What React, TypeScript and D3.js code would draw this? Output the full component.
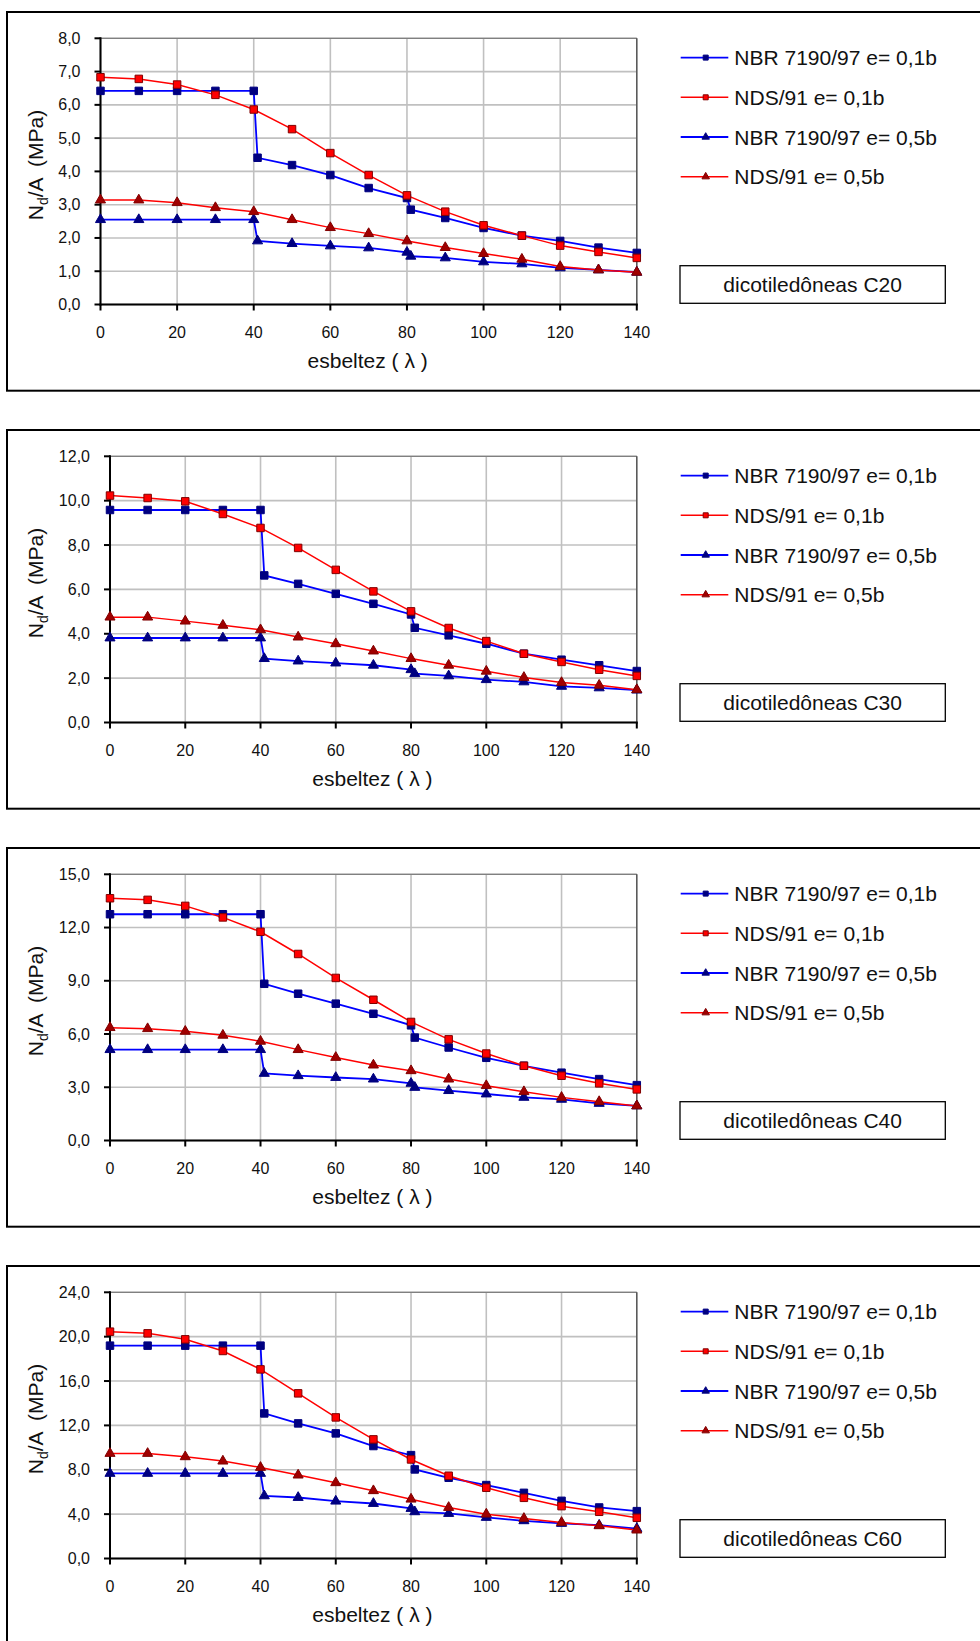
import React from 'react';
import * as d3 from 'd3';

// ---------- DATA ----------
const lambdaNBR = [0, 10, 20, 30, 40, 41, 50, 60, 70, 80, 81, 90, 100, 110, 120, 130, 140];
const lambdaNDS = [0, 10, 20, 30, 40, 50, 60, 70, 80, 90, 100, 110, 120, 130, 140];
const xTicks = [0, 20, 40, 60, 80, 100, 120, 140];

const seriesNames = ['NBR 7190/97 e= 0,1b', 'NDS/91 e= 0,1b', 'NBR 7190/97 e= 0,5b', 'NDS/91 e= 0,5b'];
const panelLabels = ['dicotiledôneas C20', 'dicotiledôneas C30', 'dicotiledôneas C40', 'dicotiledôneas C60'];

// C20
const c20NBR01 = [6.42, 6.42, 6.42, 6.42, 6.42, 4.41, 4.19, 3.89, 3.5, 3.2, 2.85, 2.6, 2.3, 2.07, 1.91, 1.71, 1.55];
const c20NDS01 = [6.83, 6.78, 6.61, 6.3, 5.86, 5.27, 4.55, 3.89, 3.28, 2.79, 2.38, 2.07, 1.77, 1.58, 1.4];
const c20NBR05 = [2.55, 2.55, 2.55, 2.55, 2.55, 1.91, 1.83, 1.76, 1.7, 1.57, 1.45, 1.4, 1.28, 1.22, 1.1, 1.04, 0.97];
const c20NDS05 = [3.14, 3.14, 3.06, 2.91, 2.79, 2.55, 2.31, 2.13, 1.91, 1.71, 1.53, 1.36, 1.14, 1.04, 0.97];
const c20YTicks = [0, 1, 2, 3, 4, 5, 6, 7, 8];

// C30
const c30NBR01 = [9.58, 9.58, 9.58, 9.58, 9.58, 6.63, 6.25, 5.8, 5.35, 4.87, 4.27, 3.93, 3.55, 3.1, 2.83, 2.58, 2.32];
const c30NDS01 = [10.23, 10.12, 9.97, 9.4, 8.77, 7.87, 6.88, 5.91, 5.01, 4.26, 3.67, 3.1, 2.73, 2.38, 2.1];
const c30NBR05 = [3.81, 3.81, 3.81, 3.81, 3.81, 2.88, 2.77, 2.68, 2.58, 2.38, 2.2, 2.1, 1.93, 1.83, 1.63, 1.56, 1.46];
const c30NDS05 = [4.75, 4.75, 4.57, 4.38, 4.18, 3.85, 3.55, 3.22, 2.88, 2.58, 2.31, 2.03, 1.8, 1.68, 1.48];
const c30YTicks = [0, 2, 4, 6, 8, 10, 12];

// C40
const c40NBR01 = [12.75, 12.75, 12.75, 12.75, 12.75, 8.83, 8.27, 7.71, 7.14, 6.49, 5.8, 5.24, 4.66, 4.21, 3.82, 3.46, 3.12];
const c40NDS01 = [13.65, 13.56, 13.22, 12.57, 11.76, 10.51, 9.16, 7.93, 6.68, 5.7, 4.9, 4.21, 3.65, 3.22, 2.88];
const c40NBR05 = [5.12, 5.12, 5.12, 5.12, 5.12, 3.78, 3.65, 3.55, 3.46, 3.22, 2.99, 2.81, 2.62, 2.43, 2.32, 2.09, 1.95];
const c40NDS05 = [6.36, 6.3, 6.15, 5.93, 5.59, 5.12, 4.68, 4.25, 3.93, 3.46, 3.09, 2.75, 2.43, 2.19, 1.95];
const c40YTicks = [0, 3, 6, 9, 12, 15];

// C60
const c60NBR01 = [19.19, 19.19, 19.19, 19.19, 19.19, 13.08, 12.18, 11.28, 10.14, 9.32, 8.03, 7.28, 6.62, 5.92, 5.2, 4.6, 4.27];
const c60NDS01 = [20.45, 20.3, 19.76, 18.71, 17.05, 14.89, 12.72, 10.74, 8.93, 7.46, 6.38, 5.47, 4.72, 4.21, 3.67];
const c60NBR05 = [7.67, 7.67, 7.67, 7.67, 7.67, 5.65, 5.5, 5.17, 4.96, 4.51, 4.21, 4.06, 3.7, 3.4, 3.16, 3.0, 2.7];
const c60NDS05 = [9.47, 9.47, 9.17, 8.78, 8.21, 7.52, 6.83, 6.11, 5.35, 4.6, 4.0, 3.61, 3.25, 2.95, 2.56];
const c60YTicks = [0, 4, 8, 12, 16, 20, 24];

// ---------- STYLES / LAYOUT ----------
const FONT = '"Liberation Sans", Arial, Helvetica, sans-serif';
const W = 980;
const H = 1641;
const PANEL_STEP = 418;

const styles = [
  { color: '#0000ff', shape: 'square', fill: '#000080', stroke: '#000080', width: 1.8 },
  { color: '#ff0000', shape: 'square', fill: '#ff0000', stroke: '#800000', width: 1.5 },
  { color: '#0000ff', shape: 'triangle', fill: '#000080', stroke: '#000080', width: 1.8 },
  { color: '#ff0000', shape: 'triangle', fill: '#a00000', stroke: '#800000', width: 1.5 },
];

const panels = [
  { label: panelLabels[0], ticks: c20YTicks, left: 100.5, series: [c20NBR01, c20NDS01, c20NBR05, c20NDS05] },
  { label: panelLabels[1], ticks: c30YTicks, left: 110, series: [c30NBR01, c30NDS01, c30NBR05, c30NDS05] },
  { label: panelLabels[2], ticks: c40YTicks, left: 110, series: [c40NBR01, c40NDS01, c40NBR05, c40NDS05] },
  { label: panelLabels[3], ticks: c60YTicks, left: 110, series: [c60NBR01, c60NDS01, c60NBR05, c60NDS05] },
];

const fmt = (v: number) => v.toFixed(1).replace('.', ',');

function markerPath(shape: string, big: boolean) {
  const sym = shape === 'square' ? d3.symbolSquare : d3.symbolTriangle;
  const size = shape === 'square' ? (big ? 56 : 25) : (big ? 44 : 24);
  return d3.symbol().type(sym).size(size)() as string;
}

function Panel({ p, idx }: { p: any; idx: number }) {
  const oy = idx * PANEL_STEP;
  const top = 38.3;
  const bottom = 304.5;
  const right = 636.8;
  const x = d3.scaleLinear().domain([0, 140]).range([p.left, right]);
  const yMax = p.ticks[p.ticks.length - 1];
  const y = d3.scaleLinear().domain([0, yMax]).range([bottom, top]);
  const line = d3
    .line<[number, number]>()
    .x((d) => x(d[0]))
    .y((d) => y(d[1]));

  const xs = [lambdaNBR, lambdaNDS, lambdaNBR, lambdaNDS];
  const legendY = (i: number) => 57.6 + i * 39.7;
  const cx = (p.left + right) / 2;

  return (
    <g transform={`translate(0,${oy})`}>
      <rect x={7} y={12} width={1000} height={378.7} fill="#fff" stroke="#000" strokeWidth={2} />
      {/* gridlines */}
      {p.ticks.map((t: number) => (
        <line key={'hy' + t} x1={p.left} x2={right} y1={y(t)} y2={y(t)} stroke="#c0c0c0" strokeWidth={1.6} />
      ))}
      {xTicks.map((t) => (
        <line key={'vx' + t} x1={x(t)} x2={x(t)} y1={top} y2={bottom} stroke="#c0c0c0" strokeWidth={1.6} />
      ))}
      {/* plot border */}
      <line x1={p.left} x2={right} y1={top} y2={top} stroke="#808080" strokeWidth={1.2} />
      <line x1={right} x2={right} y1={top} y2={bottom} stroke="#404040" strokeWidth={1.2} />
      {/* axes */}
      <line x1={p.left} x2={p.left} y1={top - 1} y2={bottom + 1} stroke="#000" strokeWidth={2} />
      <line x1={p.left - 1} x2={right + 1} y1={bottom} y2={bottom} stroke="#000" strokeWidth={2} />
      {p.ticks.map((t: number) => (
        <g key={'yt' + t}>
          <line x1={p.left - 6} x2={p.left} y1={y(t)} y2={y(t)} stroke="#000" strokeWidth={2} />
          <text x={p.left - 20} y={y(t)} textAnchor="end" dominantBaseline="central" fontSize={16} fontFamily={FONT} fill="#111">
            {fmt(t)}
          </text>
        </g>
      ))}
      {xTicks.map((t) => (
        <g key={'xt' + t}>
          <line x1={x(t)} x2={x(t)} y1={bottom} y2={bottom + 6} stroke="#000" strokeWidth={2} />
          <text x={x(t)} y={bottom + 33.5} textAnchor="middle" fontSize={16} fontFamily={FONT} fill="#111">
            {t}
          </text>
        </g>
      ))}
      {/* axis titles */}
      <text
        x={cx - 1}
        y={367.5}
        textAnchor="middle"
        fontSize={21}
        fontFamily={FONT}
        fill="#111"
        xmlSpace="preserve"
        style={{ whiteSpace: 'pre' }}
      >
        {'esbeltez ( λ )'}
      </text>
      <text
        transform={`translate(43,165) rotate(-90)`}
        textAnchor="middle"
        fontSize={21}
        fontFamily={FONT}
        fill="#111"
        xmlSpace="preserve"
        style={{ whiteSpace: 'pre' }}
      >
        <tspan>N</tspan>
        <tspan fontSize={14} dy={5}>d</tspan>
        <tspan dy={-5}>{'/A  (MPa)'}</tspan>
      </text>
      {/* series */}
      {p.series.map((vals: number[], si: number) => {
        const pts: [number, number][] = xs[si].map((lx: number, i: number) => [lx, vals[i]]);
        const st = styles[si];
        const mp = markerPath(st.shape, true);
        return (
          <g key={'s' + si}>
            <path d={line(pts) as string} fill="none" stroke={st.color} strokeWidth={st.width} />
            {pts.map((d, i) => (
              <path
                key={i}
                d={mp}
                transform={`translate(${x(d[0])},${y(d[1])})`}
                fill={st.fill}
                stroke={st.stroke}
                strokeWidth={1}
              />
            ))}
          </g>
        );
      })}
      {/* legend */}
      {seriesNames.map((n, i) => {
        const st = styles[i];
        const ly = legendY(i);
        return (
          <g key={'lg' + i}>
            <line x1={680.7} x2={728.3} y1={ly} y2={ly} stroke={st.color} strokeWidth={st.width} />
            <path d={markerPath(st.shape, false)} transform={`translate(705.7,${ly})`} fill={st.fill} stroke={st.stroke} strokeWidth={1} />
            <text x={734.3} y={ly} dominantBaseline="central" fontSize={21} fontFamily={FONT} fill="#111">
              {n}
            </text>
          </g>
        );
      })}
      {/* label box */}
      <rect x={680} y={265.7} width={265.3} height={37.6} fill="#fff" stroke="#000" strokeWidth={1.3} />
      <text x={812.6} y={284.5} textAnchor="middle" dominantBaseline="central" fontSize={21} fontFamily={FONT} fill="#111">
        {p.label}
      </text>
    </g>
  );
}

export default function App() {
  return (
    <svg
      width={W}
      height={H}
      viewBox={`0 0 ${W} ${H}`}
      style={{ position: 'absolute', left: 0, top: 0, background: '#fff' }}
    >
      <rect x={0} y={0} width={W} height={H} fill="#fff" />
      {panels.map((p, i) => (
        <Panel key={i} p={p} idx={i} />
      ))}
    </svg>
  );
}
